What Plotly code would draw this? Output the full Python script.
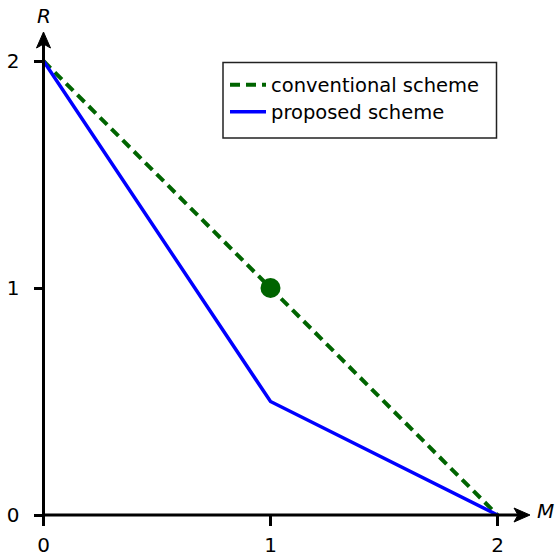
import plotly.graph_objects as go

# ---- data ----
conv_M = [0, 1, 2]
conv_R = [2, 1, 0]
prop_M = [0, 1, 2]
prop_R = [2, 0.5, 0]
point_M = [1]
point_R = [1]
tick_vals = [0, 1, 2]
tick_text = ["0", "1", "2"]

W, H = 560, 557
X0PX, Y0PX, UNIT = 43.5, 515.0, 227.0   # pixel of origin, px per unit

xr = [-X0PX / UNIT, (W - X0PX) / UNIT]
yr = [-(H - Y0PX) / UNIT, Y0PX / UNIT]

def px2x(p):
    return (p - X0PX) / UNIT

def px2y(p):
    return (Y0PX - p) / UNIT

FONT = "DejaVu Sans"
GREEN = "#006400"
BLUE = "#0000ff"

fig = go.Figure()
fig.add_trace(go.Scatter(x=conv_M, y=conv_R, mode="lines", name="conventional scheme",
                         line=dict(color=GREEN, width=4, dash="10px,6px"), legend="legend"))
fig.add_trace(go.Scatter(x=prop_M, y=prop_R, mode="lines", name="proposed scheme",
                         line=dict(color=BLUE, width=3.5), legend="legend2"))
fig.add_trace(go.Scatter(x=point_M, y=point_R, mode="markers", showlegend=False,
                         marker=dict(color=GREEN, size=20, line=dict(width=0))))

# axis lines with arrowheads (not data)
xt = px2x(530)
yt = px2y(32)
L, Wd, N = 16 / UNIT, 7 / UNIT, 4 / UNIT
shapes = [
    dict(type="line", x0=0, y0=0, x1=xt - L + N, y1=0, line=dict(color="black", width=3)),
    dict(type="line", x0=0, y0=0, x1=0, y1=yt - L + N, line=dict(color="black", width=3)),
    dict(type="path", path=f"M {xt} 0 L {xt-L} {Wd} L {xt-L+N} 0 L {xt-L} {-Wd} Z",
         fillcolor="black", line=dict(color="black", width=1)),
    dict(type="path", path=f"M 0 {yt} L {Wd} {yt-L} L 0 {yt-L+N} L {-Wd} {yt-L} Z",
         fillcolor="black", line=dict(color="black", width=1)),
    # legend frame
    dict(type="rect", xref="paper", yref="paper",
         x0=223 / W, x1=496.5 / W, y0=1 - 138 / H, y1=1 - 62.5 / H,
         fillcolor="white", line=dict(color="#222222", width=1.5), layer="above"),
]

annotations = [
    dict(x=px2x(545), y=px2y(511), text="<i>M</i>", showarrow=False,
         font=dict(family=FONT, size=20, color="black")),
    dict(x=px2x(44), y=px2y(16), text="<i>R</i>", showarrow=False,
         font=dict(family=FONT, size=20, color="black")),
]

axis_common = dict(showgrid=False, zeroline=False, showline=False, ticks="outside",
                   ticklen=10, tickwidth=3, tickcolor="black", tickmode="array",
                   tickvals=tick_vals, ticktext=tick_text, anchor="free", automargin=False,
                   tickfont=dict(family=FONT, size=20, color="black"))

leg_common = dict(xanchor="left", yanchor="middle", bgcolor="rgba(0,0,0,0)",
                  borderwidth=0, font=dict(family=FONT, size=19.5, color="black"),
                  itemwidth=36)

fig.update_layout(
    width=W, height=H, margin=dict(l=0, r=0, t=0, b=0),
    plot_bgcolor="white", paper_bgcolor="white",
    xaxis=dict(range=xr, position=(H - Y0PX) / H, ticklabelstandoff=2, **axis_common),
    yaxis=dict(range=yr, position=X0PX / W, ticklabelstandoff=10, **axis_common),
    shapes=shapes, annotations=annotations,
    legend=dict(x=225 / W, y=1 - 85 / H, **leg_common),
    legend2=dict(x=225 / W, y=1 - 112 / H, **leg_common),
    showlegend=True,
)

fig.write_html("out.html", config={"displayModeBar": False},
               post_script="document.body.style.margin='0';document.body.style.overflow='hidden';")
